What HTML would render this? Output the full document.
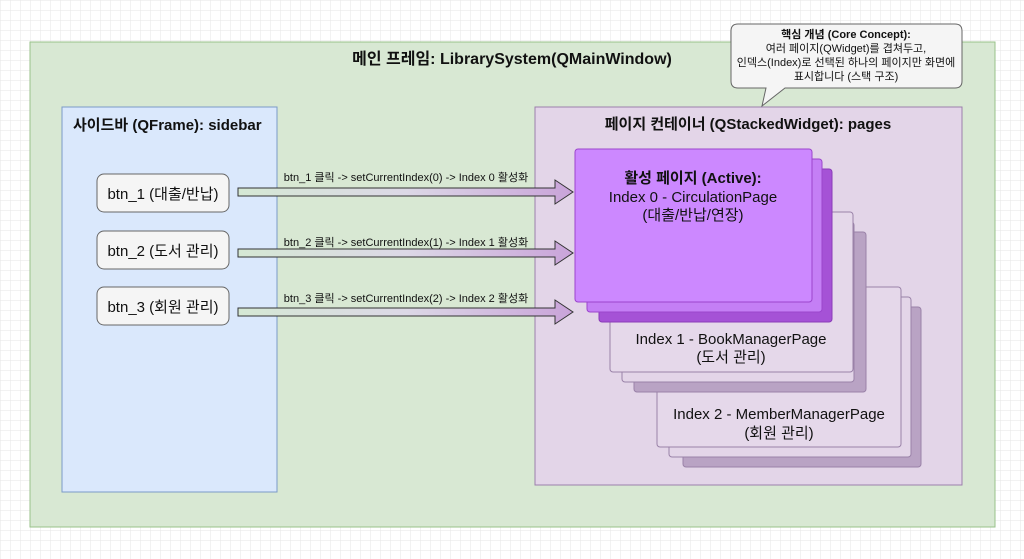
<!DOCTYPE html>
<html><head><meta charset="utf-8"><style>
html,body{margin:0;padding:0;background:#fff;}
svg{display:block;font-family:"Liberation Sans","Noto Sans CJK KR",sans-serif;}
</style></head><body>
<svg width="1024" height="559" viewBox="0 0 1024 559" xmlns="http://www.w3.org/2000/svg">
<defs>
<pattern id="g" width="10" height="10" patternUnits="userSpaceOnUse"><path d="M10 0H0V10" fill="none" stroke="#e6e6e6" stroke-width="1"/></pattern>
<linearGradient id="ag" x1="0" x2="1" y1="0" y2="0"><stop offset="0" stop-color="#d5e8d4"/><stop offset="0.5" stop-color="#dcd8e6"/><stop offset="1" stop-color="#c9a3d9"/></linearGradient>
</defs>
<rect width="1024" height="559" fill="url(#g)"/>
<rect x="30" y="42" width="965" height="485" fill="#d8e8d3" stroke="#98c28a"/>
<text x="512" y="64" text-anchor="middle" font-size="16" font-weight="bold" fill="#111">메인 프레임: LibrarySystem(QMainWindow)</text>
<rect x="62" y="107" width="215" height="385" fill="#dae8fc" stroke="#7b9ac7"/>
<text x="73" y="130" font-size="15" font-weight="bold" fill="#111">사이드바 (QFrame): sidebar</text>
<g font-size="15" fill="#111" text-anchor="middle">
<rect x="97" y="174" width="132" height="38" rx="7" fill="#f5f5f5" stroke="#666"/><text x="163" y="199">btn_1 (대출/반납)</text>
<rect x="97" y="231" width="132" height="38" rx="7" fill="#f5f5f5" stroke="#666"/><text x="163" y="256">btn_2 (도서 관리)</text>
<rect x="97" y="287" width="132" height="38" rx="7" fill="#f5f5f5" stroke="#666"/><text x="163" y="312">btn_3 (회원 관리)</text>
</g>
<rect x="535" y="107" width="427" height="378" fill="#e3d5e8" stroke="#9b7fab"/>
<text x="748" y="129" text-anchor="middle" font-size="15" font-weight="bold" fill="#111">페이지 컨테이너 (QStackedWidget): pages</text>
<!-- arrows -->
<g stroke="#333" stroke-width="1" fill="url(#ag)">
<path d="M238 188H555V180L573 192L555 204V196H238Z"/>
<path d="M238 249H555V241L573 253L555 265V257H238Z"/>
<path d="M238 308H555V300L573 312L555 324V316H238Z"/>
</g>
<g font-size="11" fill="#111" text-anchor="middle">
<text x="406" y="181">btn_1 클릭 -&gt; setCurrentIndex(0) -&gt; Index 0 활성화</text>
<text x="406" y="246">btn_2 클릭 -&gt; setCurrentIndex(1) -&gt; Index 1 활성화</text>
<text x="406" y="302">btn_3 클릭 -&gt; setCurrentIndex(2) -&gt; Index 2 활성화</text>
</g>
<!-- page 2 stack -->
<rect x="683" y="307" width="238" height="160" rx="3" fill="#b9a3c4" stroke="#9a82a8"/>
<rect x="669" y="297" width="242" height="160" rx="3" fill="#e3d5e8" stroke="#9a82a8"/>
<rect x="657" y="287" width="244" height="160" rx="3" fill="#e5d8ea" stroke="#9a82a8"/>
<!-- page 1 stack -->
<rect x="634" y="232" width="232" height="160" rx="3" fill="#b9a3c4" stroke="#9a82a8"/>
<rect x="622" y="222" width="232" height="160" rx="3" fill="#e3d5e8" stroke="#9a82a8"/>
<rect x="610" y="212" width="243" height="160" rx="3" fill="#e5d8ea" stroke="#9a82a8"/>
<!-- page 0 stack -->
<rect x="599" y="169" width="233" height="153" rx="3" fill="#a552d6" stroke="#8a3cb8"/>
<rect x="587" y="159" width="235" height="153" rx="3" fill="#c47ff5" stroke="#9b45cc"/>
<rect x="575" y="149" width="237" height="153" rx="3" fill="#cc88ff" stroke="#9b45cc"/>
<g text-anchor="middle" fill="#111">
<text x="693" y="183" font-size="15" font-weight="bold">활성 페이지 (Active):</text>
<text x="693" y="202" font-size="15">Index 0 - CirculationPage</text>
<text x="693" y="220" font-size="15">(대출/반납/연장)</text>
<text x="731" y="344" font-size="15">Index 1 - BookManagerPage</text>
<text x="731" y="362" font-size="15">(도서 관리)</text>
<text x="779" y="419" font-size="15">Index 2 - MemberManagerPage</text>
<text x="779" y="438" font-size="15">(회원 관리)</text>
</g>
<!-- callout -->
<path d="M738 24H955Q962 24 962 31V81Q962 88 955 88H785L762 106L766 88H738Q731 88 731 81V31Q731 24 738 24Z" fill="#f5f5f5" stroke="#666"/>
<g font-size="11" text-anchor="middle" fill="#111">
<text x="846" y="38" font-weight="bold">핵심 개념 (Core Concept):</text>
<text x="846" y="52">여러 페이지(QWidget)를 겹쳐두고,</text>
<text x="846" y="66">인덱스(Index)로 선택된 하나의 페이지만 화면에</text>
<text x="846" y="80">표시합니다 (스택 구조)</text>
</g>
</svg>
</body></html>
